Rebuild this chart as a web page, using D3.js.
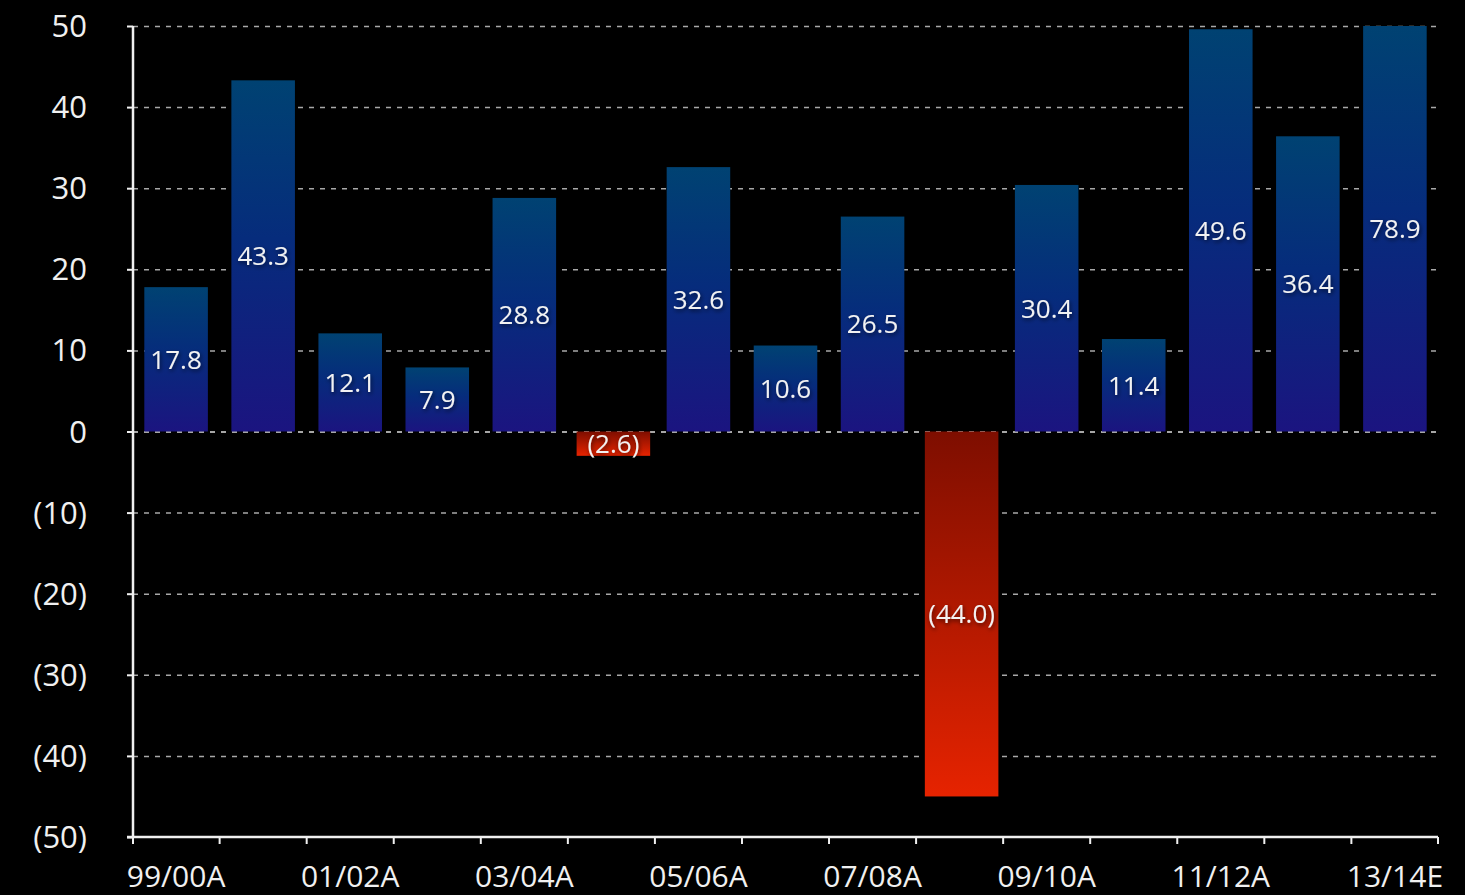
<!DOCTYPE html>
<html><head><meta charset="utf-8">
<script src="https://cdn.jsdelivr.net/npm/d3@7"></script>
<style>
html,body{margin:0;padding:0;background:#000;}
svg{display:block;}
text{font-family:"Open Sans","DejaVu Sans",sans-serif;}
</style></head>
<body>
<svg id="c" width="1465" height="895"></svg>
<script>
const categories = ["99/00A","00/01A","01/02A","02/03A","03/04A","04/05A","05/06A","06/07A","07/08A","08/09A","09/10A","10/11A","11/12A","12/13A","13/14E"];
const barValues = [17.8, 43.3, 12.1, 7.9, 28.8, -3.0, 32.6, 10.6, 26.5, -45.0, 30.4, 11.4, 49.6, 36.4, 78.9];
const valueLabels = ["17.8","43.3","12.1","7.9","28.8","(2.6)","32.6","10.6","26.5","(44.0)","30.4","11.4","49.6","36.4","78.9"];
const yTicks = [-50,-40,-30,-20,-10,0,10,20,30,40,50];
const xTickLabels = ["99/00A","01/02A","03/04A","05/06A","07/08A","09/10A","11/12A","13/14E"];

(function(){
const svg = d3.select("#c");
const mL = 133, mR = 1438, mT = 26, mB = 837;

const x = d3.scaleBand().domain(categories).range([mL, mR]).paddingInner(0.27).paddingOuter(0.13);
const y = d3.scaleLinear().domain([-50, 50]).range([mB, mT]);

const defs = svg.append("defs");
const gb = defs.append("linearGradient").attr("id","gBlue").attr("x1",0).attr("y1",0).attr("x2",0).attr("y2",1);
gb.append("stop").attr("offset","0%").attr("stop-color","#004272");
gb.append("stop").attr("offset","45%").attr("stop-color","#062c7c");
gb.append("stop").attr("offset","100%").attr("stop-color","#1b1480");
const gr = defs.append("linearGradient").attr("id","gRed").attr("x1",0).attr("y1",0).attr("x2",0).attr("y2",1);
gr.append("stop").attr("offset","0%").attr("stop-color","#7e0e00");
gr.append("stop").attr("offset","100%").attr("stop-color","#e62300");
const clip = defs.append("clipPath").attr("id","plotClip");
clip.append("rect").attr("x",mL).attr("y",mT).attr("width",mR-mL).attr("height",mB-mT);
const f = defs.append("filter").attr("id","shadow").attr("x","-20%").attr("y","-40%").attr("width","140%").attr("height","180%");
f.append("feDropShadow").attr("dx",1).attr("dy",2).attr("stdDeviation",2).attr("flood-color","#000").attr("flood-opacity",0.6);

// gridlines
svg.append("g").selectAll("line").data(yTicks.filter(d => d !== -50)).join("line")
  .attr("x1", mL).attr("x2", mR)
  .attr("y1", d => y(d) + 0.5).attr("y2", d => y(d) + 0.5)
  .attr("stroke", d => d === 0 ? "#dddddd" : "#a8a8a8")
  .attr("stroke-width", 1.5)
  .attr("stroke-dasharray", "5,6");

// bars (negative bars are drawn wider in the reference)
const clampV = v => Math.max(-50, Math.min(50, v));
const bw = d => d < 0 ? x.bandwidth() + 10 : x.bandwidth();
const bx = (d,i) => x(categories[i]) + x.bandwidth()/2 - bw(d)/2 + (d < 0 ? 2 : 0);
svg.append("g").attr("clip-path","url(#plotClip)").selectAll("rect").data(barValues).join("rect")
  .attr("x", bx)
  .attr("width", bw)
  .attr("y", d => y(Math.max(0, clampV(d))))
  .attr("height", d => Math.abs(y(clampV(d)) - y(0)))
  .attr("fill", d => d < 0 ? "url(#gRed)" : "url(#gBlue)");

// value labels
svg.append("g").selectAll("text").data(barValues).join("text")
  .attr("x", (d,i) => bx(d,i) + bw(d)/2)
  .attr("y", d => (y(clampV(d)) + y(0))/2)
  .attr("dy", "0.36em")
  .attr("text-anchor", "middle")
  .attr("fill", "#f2f2f2")
  .attr("font-size", 26)
  .attr("filter","url(#shadow)")
  .text((d,i) => valueLabels[i]);

// y axis
const yAxis = d3.axisLeft(y).tickValues(yTicks).tickSize(6).tickPadding(40)
  .tickFormat(d => d < 0 ? "(" + Math.abs(d) + ")" : String(d));
const gy = svg.append("g").attr("transform", `translate(${mL},0)`).call(yAxis);
gy.select(".domain").attr("stroke","#f0f0f0").attr("stroke-width",2.5).attr("d", `M0,${mT}V${mB}`);
gy.selectAll(".tick line").attr("stroke","#f0f0f0").attr("stroke-width",2);
gy.selectAll(".tick text").attr("fill","#f0f0f0").attr("font-size",31).attr("font-family","Open Sans, sans-serif").attr("dy","0.34em");

// x axis
const xAxis = d3.axisBottom(x).tickSize(0).tickPadding(39)
  .tickFormat(d => xTickLabels.includes(d) ? d : "");
const gx = svg.append("g").attr("transform", `translate(0,${mB})`).call(xAxis);
gx.select(".domain").attr("stroke","#f0f0f0").attr("stroke-width",2.5).attr("d", `M${mL-6},0H${mR}`);
gx.selectAll(".tick text").attr("fill","#f0f0f0").attr("font-size",30).attr("font-family","Open Sans, sans-serif").attr("dy","0.36em");
// boundary ticks
const step = x.step();
const bounds = d3.range(categories.length + 1).map(i => i === 0 ? mL : (i === categories.length ? mR : x(categories[i]) - step * x.paddingInner() / 2));
gx.append("g").selectAll("line").data(bounds).join("line")
  .attr("x1", d => d).attr("x2", d => d).attr("y1", 0).attr("y2", 7)
  .attr("stroke", "#f0f0f0").attr("stroke-width", 2);
})();
</script>
</body></html>
